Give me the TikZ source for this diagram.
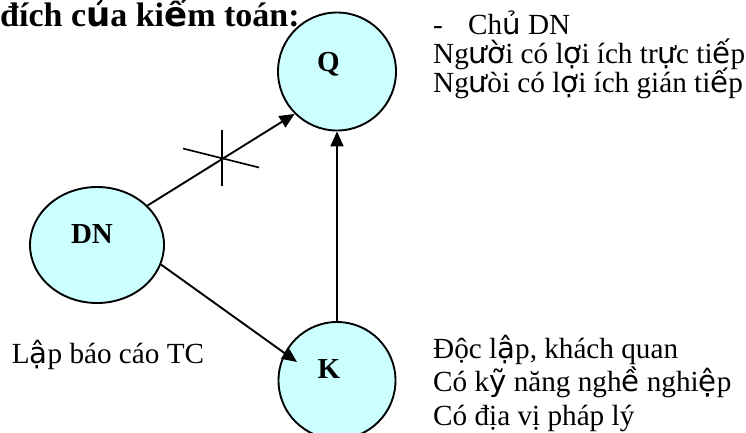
\documentclass[tikz,border=0pt]{standalone}
\usepackage{fontspec}
\setmainfont{Liberation Serif}
\newfontfamily\fb{DejaVu Sans}
\newcommand\fbk[1]{{\fb #1}}
\usetikzlibrary{arrows.meta,shapes.geometric}
\definecolor{bubblefill}{HTML}{CCFFFF}
\begin{document}
\begin{tikzpicture}[x=1pt,y=-1pt,
  bubble/.style={draw, line width=1.9pt, fill=bubblefill, inner sep=0pt},
  link/.style={line width=1.9pt, -{Triangle[length=15pt,width=13pt]}},
  body/.style={anchor=base west, inner sep=0pt, font=\fontsize{29.2}{30}\selectfont},
  tag/.style={anchor=base, inner sep=0pt, font=\bfseries\fontsize{29}{30}\selectfont}]
\useasboundingbox (0,0) rectangle (746,432);

% parties
\node[bubble, circle, minimum size=118pt] (Q) at (337,71.5) {};
\node[bubble, ellipse, minimum width=134pt, minimum height=116pt] (DN) at (97,245) {};
\node[bubble, circle, minimum size=117pt] (K) at (337,380.5) {};
\node[tag] (qlab) at (328.5,71.5) {Q};
\node[tag] (dnlab) at (92,243) {DN};
\node[tag] (klab) at (329,378) {K};

% relations
\draw[link] (DN.38) -- (Q.225);
\draw[link] (K.north) -- (Q.south);
\coordinate (ktip) at (297,362);
\draw[link] (DN.-17) -- (ktip);

% crossed-out direct link
\coordinate (cut) at (222,158);
\draw[line width=1.6pt] ([shift={(0,-28)}]cut) -- ([shift={(0,28)}]cut);
\draw[line width=1.6pt] ([shift={(-39,-9.5)}]cut) -- ([shift={(37,9.5)}]cut);

% heading
\node[anchor=base west, inner sep=0pt, font=\bfseries\fontsize{34}{36}\selectfont] (title) at (0,26)
  {đích c\fbk{ủ}a ki\fbk{ể}m toán:};

% users of the report
\node[body] (dash) at (433,34.5) {-};
\node[body] (owner) at (468,34.5) {Ch\fbk{ủ} DN};
\node[body] (direct) at (433,63.3) {Ng\fbk{ườ}i có l\fbk{ợ}i ích tr\fbk{ự}c ti\fbk{ế}p};
\node[body] (indirect) at (433,92.8) {Ng\fbk{ư}òi có l\fbk{ợ}i ích gián ti\fbk{ế}p};

% auditor qualities
\node[body] (indep) at (433,358.3) {Độc l\fbk{ậ}p, khách quan};
\node[body] (skill) at (433,391.7) {Có k\fbk{ỹ} năng ngh\fbk{ề} nghi\fbk{ệ}p};
\node[body] (legal) at (433,425) {Có địa vị pháp lý};

% preparer
\node[body] (prep) at (11.7,363.3) {L\fbk{ậ}p báo cáo TC};
\end{tikzpicture}
\end{document}
